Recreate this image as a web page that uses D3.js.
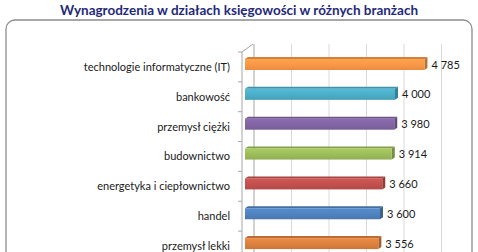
<!DOCTYPE html>
<html>
<head>
<meta charset="utf-8">
<script src="https://cdn.jsdelivr.net/npm/d3@7"></script>
<style>
  body { margin: 0; background: #fff; }
  svg { display: block; }
  text { font-family: Lato, "Open Sans", sans-serif; }
</style>
</head>
<body>
<svg width="478" height="252"></svg>
<script>
// data
const categories = [
  'technologie informatyczne (IT)',
  'bankowość',
  'przemysł ciężki',
  'budownictwo',
  'energetyka i ciepłownictwo',
  'handel',
  'przemysł lekki'
];
const values = [4785, 4000, 3980, 3914, 3660, 3600, 3556];
const colors = ['#f79646', '#4bacc6', '#8064a2', '#9bbb59', '#c0504d', '#4f81bd', '#d9803e'];
const gridTicks = [0, 1000, 2000, 3000, 4000, 5000];
const title = 'Wynagrodzenia w działach księgowości w różnych branżach';

const svg = d3.select('svg');
const fmt = d3.formatLocale({ decimal: ',', thousands: '\u00a0', grouping: [3], currency: ['', ''] }).format(',d');

// depth offsets of the 3d look
const wallDx = 9, wallDy = -8;
const barDx = 3, barDy = -2;

const xScale = d3.scaleLinear().domain([0, 5000]).range([245, 432.5]);
const yScale = d3.scaleBand().domain(categories).range([52, 52 + categories.length * 29.85]);

// title
svg.append('text')
  .attr('x', 239).attr('y', 15)
  .attr('text-anchor', 'middle')
  .attr('font-size', 13.5).attr('font-weight', 'bold')
  .attr('fill', '#1f2a78')
  .text(title);

// frame
svg.append('rect')
  .attr('x', 6).attr('y', 20)
  .attr('width', 466).attr('height', 260)
  .attr('rx', 9)
  .attr('fill', 'none').attr('stroke', '#8c8c8c').attr('stroke-width', 1.3);

// back wall gridlines
svg.append('g').selectAll('line')
  .data(gridTicks).enter().append('line')
  .attr('x1', d => xScale(d) + wallDx).attr('x2', d => xScale(d) + wallDx)
  .attr('y1', 52 + wallDy).attr('y2', 260)
  .attr('stroke', d => d === 0 ? '#a6a6a6' : '#d9d9d9').attr('stroke-width', 1);

// axis line with depth edge and ticks
const ax = xScale(0) - 3;
svg.append('path')
  .attr('d', `M${ax},260 L${ax},52 L${ax + wallDx + 2},${52 + wallDy}`)
  .attr('fill', 'none').attr('stroke', '#a6a6a6');
const tickYs = categories.map(c => yScale(c)).concat([yScale.range()[1]]);
svg.append('g').selectAll('line')
  .data(tickYs).enter().append('line')
  .attr('x1', ax - 4).attr('x2', ax)
  .attr('y1', d => d).attr('y2', d => d)
  .attr('stroke', '#a6a6a6');

// category labels
svg.append('g').selectAll('text')
  .data(categories).enter().append('text')
  .attr('x', 230)
  .attr('y', d => yScale(d) + yScale.bandwidth() / 2 + 4)
  .attr('text-anchor', 'end')
  .attr('font-size', 11).attr('fill', '#1a1a1a')
  .text(d => d);

// bars
const defs = svg.append('defs');
const rows = categories.map((c, i) => ({ c: c, v: values[i], col: colors[i], i: i }));
rows.forEach(r => {
  const g = defs.append('linearGradient').attr('id', 'g' + r.i)
    .attr('x1', 0).attr('x2', 0).attr('y1', 0).attr('y2', 1);
  g.append('stop').attr('offset', '0%').attr('stop-color', d3.color(r.col).brighter(0.25));
  g.append('stop').attr('offset', '60%').attr('stop-color', r.col);
  g.append('stop').attr('offset', '100%').attr('stop-color', d3.color(r.col).darker(0.2));
});

const bars = svg.append('g').selectAll('g')
  .data(rows).enter().append('g');

const barTop = r => yScale(r.c) + 7;
const bh = 11;

bars.append('path') // top face
  .attr('d', r => {
    const x0 = xScale(0), x1 = xScale(r.v), y = barTop(r);
    return `M${x0},${y} L${x0 + barDx},${y + barDy} L${x1 + barDx},${y + barDy} L${x1},${y} Z`;
  })
  .attr('fill', r => d3.color(r.col).darker(0.45));

bars.append('path') // side face
  .attr('d', r => {
    const x1 = xScale(r.v), y = barTop(r);
    return `M${x1},${y} L${x1 + barDx},${y + barDy} L${x1 + barDx},${y + barDy + bh} L${x1},${y + bh} Z`;
  })
  .attr('fill', r => d3.color(r.col).darker(0.8));

bars.append('rect') // front face
  .attr('x', xScale(0))
  .attr('y', r => barTop(r))
  .attr('width', r => xScale(r.v) - xScale(0))
  .attr('height', bh)
  .attr('fill', r => 'url(#g' + r.i + ')');

bars.append('text')
  .attr('x', r => xScale(r.v) + barDx + 4)
  .attr('y', r => barTop(r) + bh / 2 + 4)
  .attr('font-size', 11).attr('fill', '#1a1a1a')
  .text(r => fmt(r.v));
</script>
</body>
</html>
